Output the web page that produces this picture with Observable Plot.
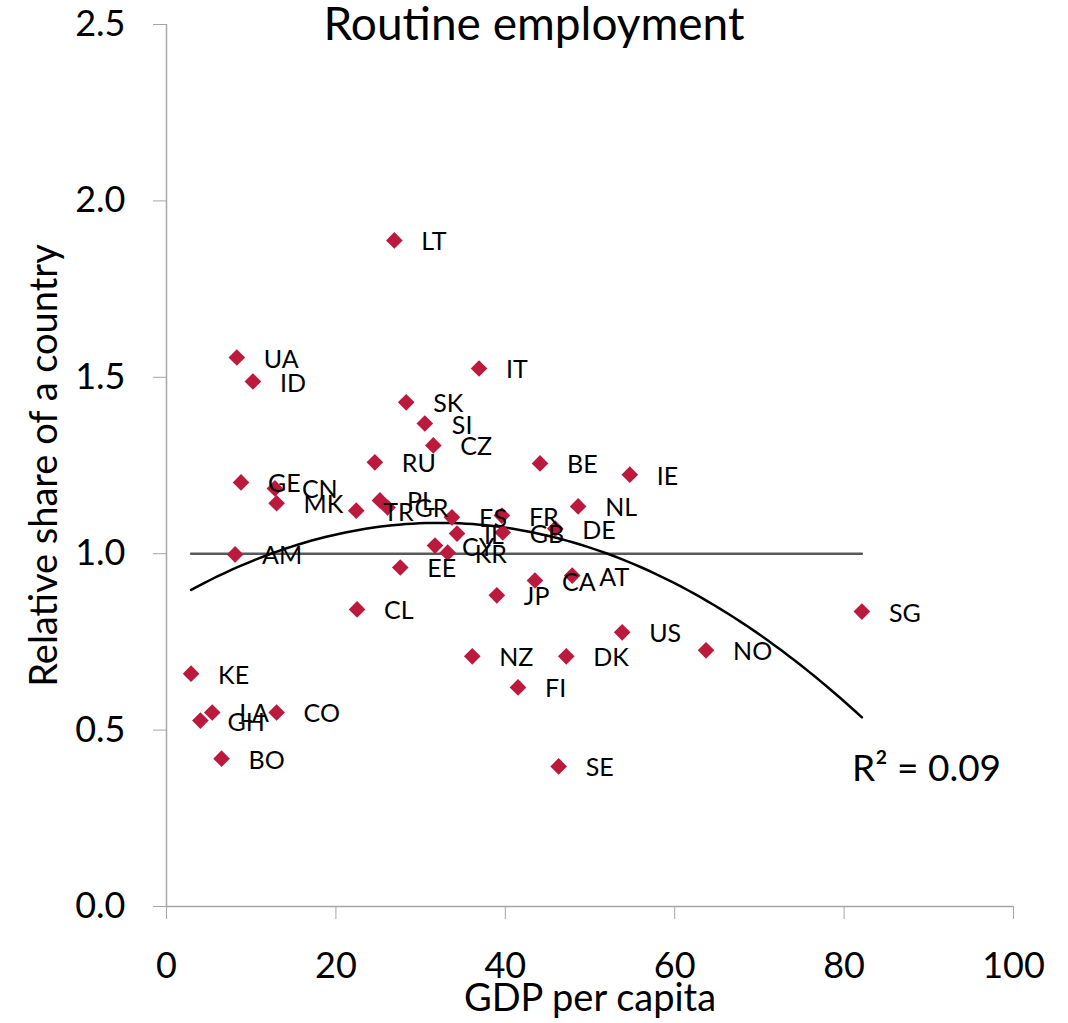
<!DOCTYPE html>
<html>
<head>
<meta charset="utf-8">
<script src="https://cdn.jsdelivr.net/npm/d3@7"></script>
<script src="https://cdn.jsdelivr.net/npm/@observablehq/plot@0.6"></script>
<style>
  body { margin: 0; background: #fff; }
  #wrap { position: relative; width: 1068px; height: 1023px; font-family: Lato, "Open Sans", sans-serif; }
  #title { position: absolute; left: 0; width: 1068px; top: 0px; text-align: center; font-size: 46px; line-height: 46px; color: #000; }
  #r2 { position: absolute; left: 852px; top: 744px; font-size: 37px; line-height: 46px; color: #000; }
</style>
</head>
<body>
<div id="wrap">
  <div id="chart"></div>
  <div id="title">Routine employment</div>
  <div id="r2">R² = 0.09</div>
</div>
<script>
const countries = ["LT","UA","ID","IT","SK","SI","CZ","RU","BE","IE","GE","CN","MK","NL","TR","PL","GR","ES","IL","CY","KR","FR","GB","DE","EE","JP","CA","AT","CL","AM","KE","LA","GH","CO","BO","SG","NO","US","DK","NZ","FI","SE"];
const gdp = [26.9,8.3,10.2,36.9,28.3,30.5,31.5,24.6,44.1,54.7,8.8,12.8,13.0,48.6,22.4,25.2,26.1,33.7,34.3,31.7,33.2,39.6,39.7,45.9,27.6,39.0,43.5,47.9,22.5,8.1,2.9,5.4,4.0,13.0,6.5,82.1,63.7,53.8,47.2,36.1,41.5,46.3];
const share = [1.888,1.556,1.488,1.525,1.429,1.369,1.307,1.259,1.256,1.224,1.202,1.185,1.143,1.134,1.122,1.151,1.131,1.103,1.057,1.023,1.003,1.108,1.060,1.071,0.961,0.882,0.924,0.938,0.842,0.998,0.660,0.550,0.527,0.550,0.419,0.836,0.726,0.777,0.709,0.709,0.621,0.397];
const xTicks = [0,20,40,60,80,100];
const yTicks = [0,0.5,1.0,1.5,2.0,2.5];

const data = countries.map((c,i) => ({c, x: gdp[i], y: share[i]}));

// quadratic least-squares trendline computed from the data
function quadFit(xs, ys) {
  const n = xs.length;
  let s = [0,0,0,0,0], t = [0,0,0];
  for (let i = 0; i < n; i++) {
    const x = xs[i], y = ys[i];
    let p = 1;
    for (let k = 0; k < 5; k++) { s[k] += p; p *= x; }
    t[0] += y; t[1] += y*x; t[2] += y*x*x;
  }
  const A = [[s[0],s[1],s[2],t[0]],[s[1],s[2],s[3],t[1]],[s[2],s[3],s[4],t[2]]];
  for (let i = 0; i < 3; i++) {
    for (let j = i+1; j < 3; j++) {
      const f = A[j][i]/A[i][i];
      for (let k = i; k < 4; k++) A[j][k] -= f*A[i][k];
    }
  }
  const r = [0,0,0];
  for (let i = 2; i >= 0; i--) {
    let v = A[i][3];
    for (let k = i+1; k < 3; k++) v -= A[i][k]*r[k];
    r[i] = v/A[i][i];
  }
  return r;
}
const [a,b,c] = quadFit(gdp, share);
const [xmin, xmax] = d3.extent(gdp);
const trend = d3.range(0, 101).map(i => { const x = xmin + (xmax-xmin)*i/100; return {x, y: a + b*x + c*x*x}; });
const refLine = [{x: xmin, y: 1}, {x: xmax, y: 1}];

const chart = Plot.plot({
  width: 1068,
  height: 1023,
  marginLeft: 166,
  marginRight: 55,
  marginTop: 24,
  marginBottom: 117,
  style: {fontFamily: "Lato, 'Open Sans', sans-serif", background: "#fff", color: "#000"},
  x: {domain: [0,100]},
  y: {domain: [0,2.5]},
  marks: [
    Plot.axisY({ticks: yTicks, tickSize: 13, tickPadding: 28, tickFormat: d => d.toFixed(1), fontSize: 36, stroke: "#a6a6a6", label: null, fill: "#000"}),
    Plot.axisX({ticks: xTicks, tickSize: 13, tickPadding: 33, fontSize: 36, stroke: "#a6a6a6", label: null, fill: "#000"}),
    Plot.ruleX([0], {stroke: "#a6a6a6", strokeWidth: 1.5}),
    Plot.ruleY([0], {stroke: "#a6a6a6", strokeWidth: 1.5, x1: 0, x2: 100}),
    Plot.line(refLine, {x: "x", y: "y", stroke: "#595959", strokeWidth: 2.5}),
    Plot.line(trend, {x: "x", y: "y", stroke: "#000", strokeWidth: 2.5, curve: "basis"}),
    Plot.dot(data, {x: "x", y: "y", symbol: "diamond2", r: 7.5, fill: "#BC1A3D", stroke: "none"}),
    Plot.text(data, {x: "x", y: "y", text: "c", dx: 27, dy: 2, textAnchor: "start", fontSize: 25, fill: "#000"}),
    Plot.text(["GDP per capita"], {frameAnchor: "bottom", dy: 104, fontSize: 38, fill: "#000"}),
    Plot.text(["Relative share of a country"], {frameAnchor: "left", textAnchor: "middle", dx: -122, rotate: -90, fontSize: 38, fill: "#000"})
  ]
});
document.getElementById("chart").appendChild(chart);
</script>
</body>
</html>
